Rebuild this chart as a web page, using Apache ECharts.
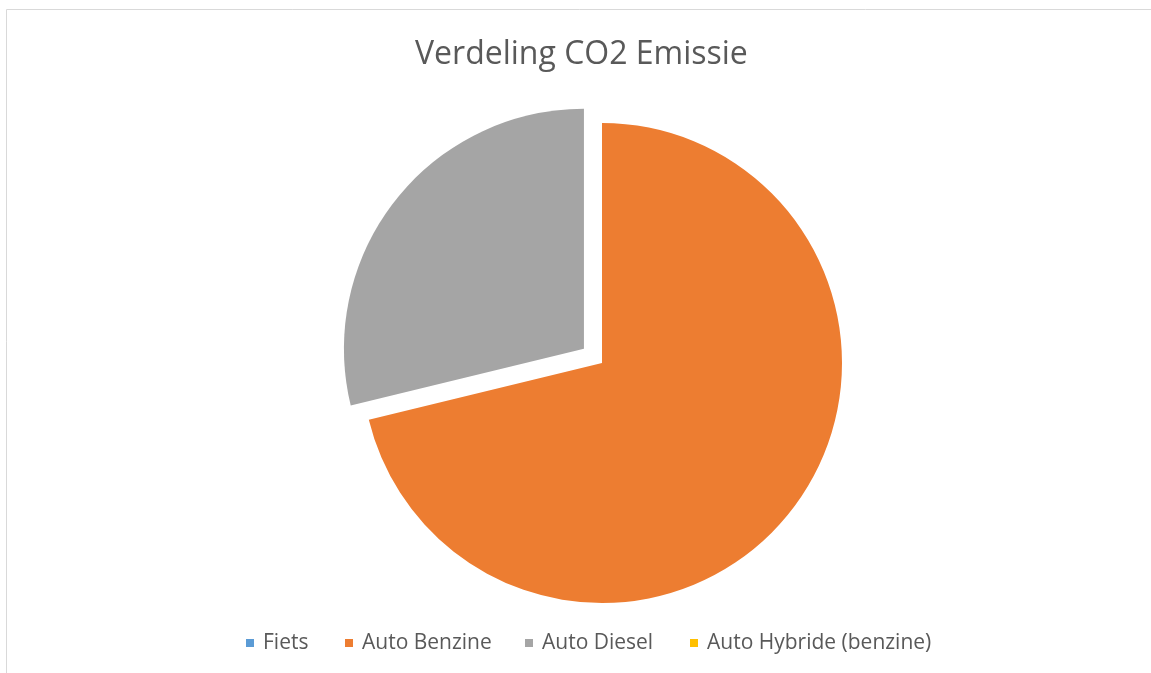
<!DOCTYPE html>
<html>
<head>
<meta charset="utf-8">
<script src="https://cdn.jsdelivr.net/npm/echarts@6/dist/echarts.min.js"></script>
<style>
html,body{margin:0;padding:0;background:#fff;}
#chart{width:1151px;height:673px;}
</style>
</head>
<body>
<div id="chart"></div>
<script>
const categories = ['Fiets', 'Auto Benzine', 'Auto Diesel', 'Auto Hybride (benzine)'];
const values = [0, 71.2, 28.8, 0];
const colors = ['#5B9BD5', '#ED7D31', '#A5A5A5', '#FFC000'];
const explodedCategory = 'Auto Diesel';
const titleText = 'Verdeling CO2 Emissie';

const FONT = 'Open Sans';
const legendLefts = [246, 345, 525, 690];

const chart = echarts.init(document.getElementById('chart'), null, {renderer: 'canvas'});

const legends = categories.map((c, i) => ({
  data: [c],
  left: legendLefts[i],
  top: 632,
  padding: 0,
  itemWidth: 8,
  itemHeight: 8,
  icon: 'rect',
  selectedMode: false,
  textStyle: {
    fontFamily: FONT,
    fontSize: 21,
    lineHeight: 22,
    color: '#595959',
    padding: [0, 0, 0, 4]
  }
}));

chart.setOption({
  animation: false,
  color: colors,
  title: {
    text: titleText,
    left: 415,
    top: 39,
    padding: 0,
    textStyle: {
      fontFamily: FONT,
      fontSize: 32,
      lineHeight: 32,
      fontWeight: 'normal',
      color: '#595959'
    }
  },
  graphic: [{
    type: 'rect',
    shape: {x: 6.5, y: 9.5, width: 1300, height: 800},
    style: {fill: 'none', stroke: '#d9d9d9', lineWidth: 1},
    silent: true
  }],
  legend: legends,
  series: [{
    type: 'pie',
    center: [602, 363],
    radius: [0, 240],
    startAngle: 90,
    clockwise: true,
    selectedMode: 'single',
    selectedOffset: 23,
    label: {show: false},
    labelLine: {show: false},
    emphasis: {disabled: true},
    stillShowZeroSum: true,
    itemStyle: {borderWidth: 0},
    data: categories.map((c, i) => ({
      name: c,
      value: values[i],
      selected: c === explodedCategory
    }))
  }]
});
</script>
</body>
</html>
